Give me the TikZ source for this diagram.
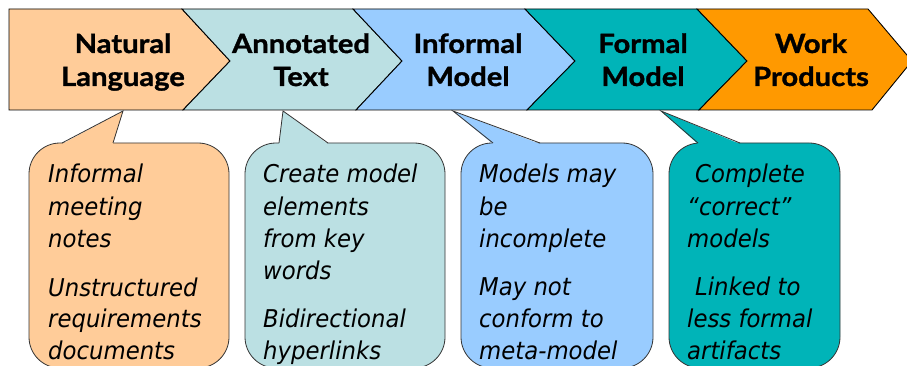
\documentclass[tikz,border=0pt]{standalone}
\usepackage{fontspec}
\newfontfamily\headfont[FakeStretch=1.1,BoldFeatures={FakeBold=1.2}]{Lato}
\newfontfamily\bodyfont[FakeStretch=0.93]{DejaVu Sans}
\definecolor{peach}{HTML}{FFCC99}
\definecolor{lteal}{HTML}{BBE0E3}
\definecolor{lblue}{HTML}{99CCFF}
\definecolor{teal}{HTML}{00B4B8}
\definecolor{orng}{HTML}{FF9900}
\definecolor{edge}{HTML}{333333}
\begin{document}
\begin{tikzpicture}[x=1pt,y=-1pt,
  chev/.style={draw=black,line width=0.9pt,line join=miter},
  bubble/.style={draw=edge,line width=0.8pt,rounded corners=31pt},
  ptredge/.style={draw=edge,line width=0.8pt,line join=miter},
  head/.style={inner sep=0pt,anchor=base,font=\headfont\bfseries\fontsize{26.5}{33}\selectfont},
  body/.style={inner sep=0pt,anchor=base west,font=\bodyfont\itshape\fontsize{24.5}{32}\selectfont}]
\useasboundingbox (0,0) rectangle (907,366);
% chevrons
\draw[chev,fill=peach] (9,9) -- (182,9) -- (230,61) -- (183,110) -- (9,110) -- cycle;
\draw[chev,fill=lteal] (182,9) -- (353,9) -- (402,61) -- (356,110) -- (183,110) -- (230,61) -- cycle;
\draw[chev,fill=lblue] (353,9) -- (525,9) -- (575,61) -- (527,110) -- (356,110) -- (402,61) -- cycle;
\draw[chev,fill=teal] (525,9) -- (697,9) -- (747,61) -- (699,110) -- (527,110) -- (575,61) -- cycle;
\draw[chev,fill=orng] (697,9) -- (868,9) -- (912,61) -- (872,110) -- (699,110) -- (747,61) -- cycle;
% header texts
\node[head] (h1a) at (123,53) {Natural};
\node[head] (h1b) at (123,86) {Language};
\node[head] (h2a) at (301,53) {Annotated};
\node[head] (h2b) at (301,86) {Text};
\node[head] (h3a) at (468,53) {Informal};
\node[head] (h3b) at (468,86) {Model};
\node[head] (h4a) at (643,53) {Formal};
\node[head] (h4b) at (643,86) {Model};
\node[head] (h5a) at (811,53) {Work};
\node[head] (h5b) at (811,86) {Products};
% bubble 1
\draw[bubble,fill=peach] (29,143) rectangle (229,368);
\fill[peach] (62,144) -- (123,111) -- (113,144) -- cycle;
\draw[ptredge] (62,143) -- (123,111) -- (113,143);
% bubble 2
\draw[bubble,fill=lteal] (245,143) rectangle (445,368);
\fill[lteal] (279,144) -- (283,111) -- (328,144) -- cycle;
\draw[ptredge] (279,143) -- (283,111) -- (328,143);
% bubble 3
\draw[bubble,fill=lblue] (461,143) rectangle (653,368);
\fill[lblue] (493,144) -- (453,111) -- (540,144) -- cycle;
\draw[ptredge] (493,143) -- (453,111) -- (540,143);
% bubble 4
\draw[bubble,fill=teal] (669,143) rectangle (840,368);
\fill[teal] (698,144) -- (661,111) -- (740,144) -- cycle;
\draw[ptredge] (698,143) -- (661,111) -- (740,143);
% bubble texts
\node[body] (a1) at (48,183) {Informal};
\node[body] (a2) at (48,215) {meeting};
\node[body] (a3) at (48,247) {notes};
\node[body] (a4) at (48,296) {Unstructured};
\node[body] (a5) at (48,327) {requirements};
\node[body] (a6) at (48,359) {documents};
\node[body] (b1) at (263,183) {Create model};
\node[body] (b2) at (263,215) {elements};
\node[body] (b3) at (263,247) {from key};
\node[body] (b4) at (263,279) {words};
\node[body] (b5) at (263,327) {Bidirectional};
\node[body] (b6) at (263,359) {hyperlinks};
\node[body] (c1) at (479,183) {Models may};
\node[body] (c2) at (479,215) {be};
\node[body] (c3) at (479,247) {incomplete};
\node[body] (c4) at (479,295) {May not};
\node[body] (c5) at (479,327) {conform to};
\node[body] (c6) at (479,359) {meta-model};
\node[body] (d1) at (695,183) {Complete};
\node[body] (d2) at (687,215) {“correct”};
\node[body] (d3) at (687,247) {models};
\node[body] (d4) at (695,295) {Linked to};
\node[body] (d5) at (687,327) {less formal};
\node[body] (d6) at (687,359) {artifacts};
\end{tikzpicture}
\end{document}
